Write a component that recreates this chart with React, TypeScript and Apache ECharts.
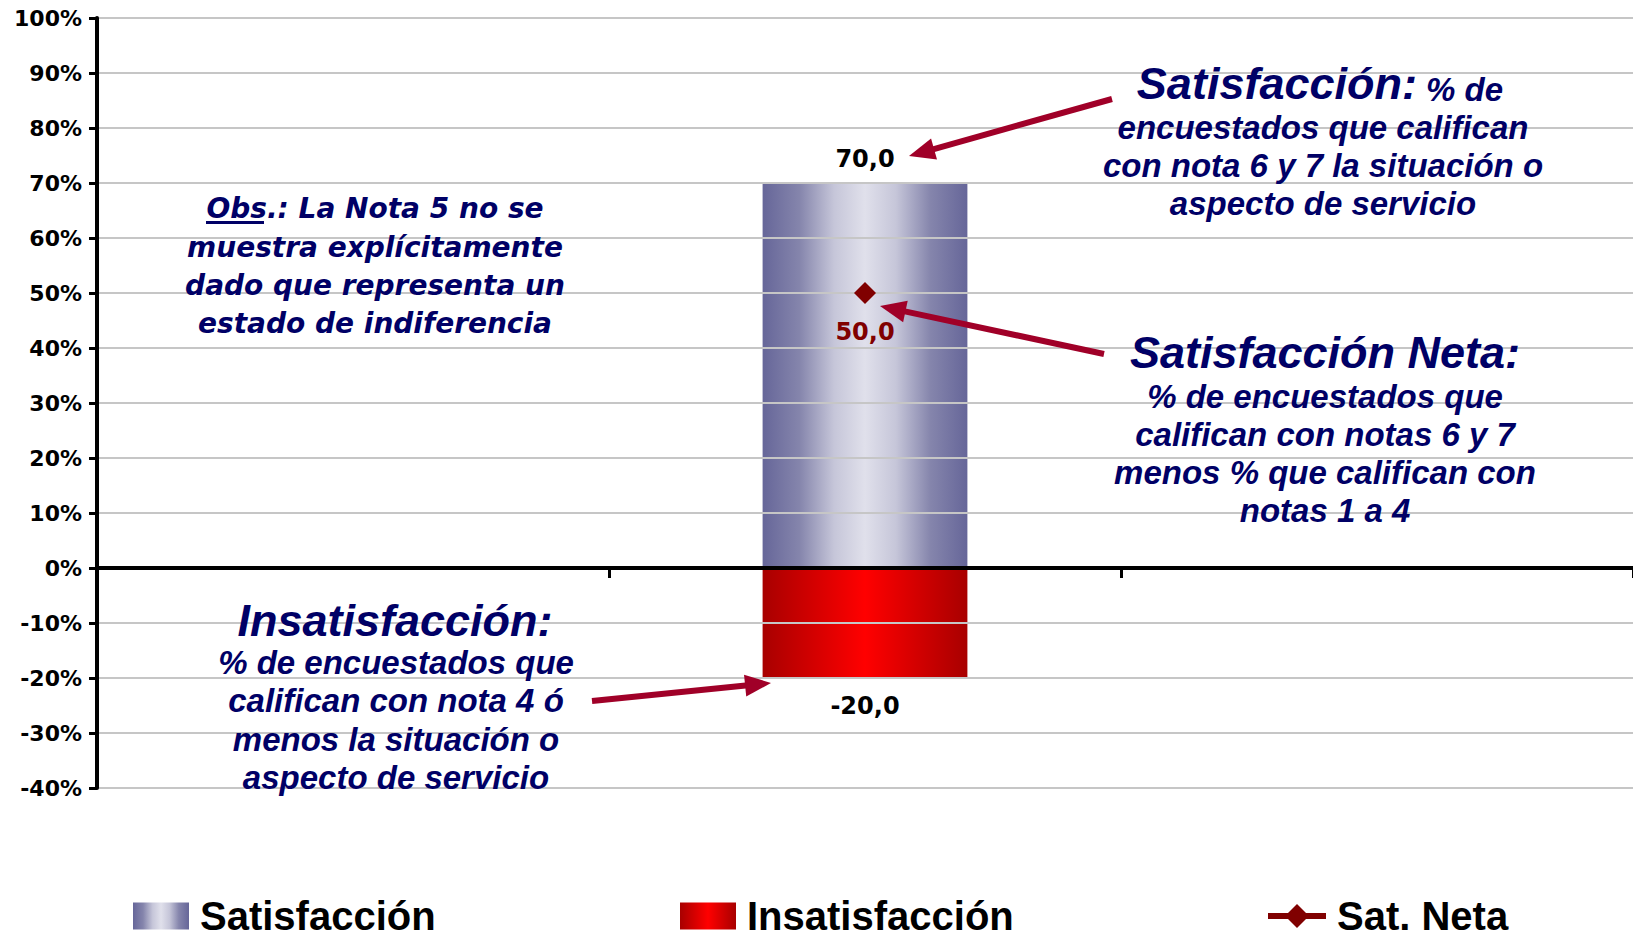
import React, { useEffect, useRef } from "react";
import * as echarts from "echarts";

// ---- data ----
const CATEGORIES = ["Anterior", "Servicio", "Siguiente"];
const SATISFACCION = [null, 70, null];
const INSATISFACCION = [null, -20, null];
const SAT_NETA = [null, 50, null];
const Y_MIN = -40;
const Y_MAX = 100;
const Y_STEP = 10;
const SERIES_NAMES = ["Satisfacción", "Insatisfacción", "Sat. Neta"];

const NOTE_OBS = ["Obs.: La Nota 5 no se", "muestra explícitamente", "dado que representa un", "estado de indiferencia"];
const NOTE_SAT_TITLE = "Satisfacción:";
const NOTE_SAT_LINES = ["encuestados que califican", "con nota 6 y 7 la situación o", "aspecto de servicio"];
const NOTE_NETA_TITLE = "Satisfacción Neta:";
const NOTE_NETA_LINES = ["% de encuestados que", "califican con notas 6 y 7", "menos % que califican con", "notas 1 a 4"];
const NOTE_INS_TITLE = "Insatisfacción:";
const NOTE_INS_LINES = ["% de encuestados que", "califican con nota 4 ó", "menos la situación o", "aspecto de servicio"];

const NAVY = "#000066";
const ARROW = "#A00028";
const TAHOMA = '"Liberation Sans", Arial, sans-serif';
const VERDANA = '"DejaVu Sans", Verdana, sans-serif';

const fmt = (v: any) => Number(v).toFixed(1).replace(".", ",");

function arrow(x1: number, y1: number, x2: number, y2: number) {
  const L = 26, W = 11;
  const dx = x2 - x1, dy = y2 - y1;
  const len = Math.hypot(dx, dy);
  const ux = dx / len, uy = dy / len;
  const px = -uy, py = ux;
  const bx = x2 - ux * L, by = y2 - uy * L;
  return [
    { type: "line", z: 100, shape: { x1, y1, x2: bx + ux * 3, y2: by + uy * 3 }, style: { stroke: ARROW, lineWidth: 6 } },
    {
      type: "polygon",
      z: 100,
      shape: { points: [[x2, y2], [bx + px * W, by + py * W], [bx - px * W, by - py * W]] },
      style: { fill: ARROW },
    },
  ];
}

function textEl(text: string, x: number, y: number, font: string, fill = NAVY) {
  return { type: "text", z: 100, x, y, style: { text, font, fill, align: "center", verticalAlign: "middle" } };
}

export default function App() {
  const ref = useRef<HTMLDivElement>(null);
  useEffect(() => {
    if (!ref.current) return;
    const chart = echarts.init(ref.current, null, { renderer: "svg" });

    const satGrad = new echarts.graphic.LinearGradient(0, 0, 1, 0, [
      { offset: 0, color: "#666699" },
      { offset: 0.18, color: "#8585ac" },
      { offset: 0.35, color: "#c6c6d9" },
      { offset: 0.5, color: "#e0e0eb" },
      { offset: 0.65, color: "#c6c6d9" },
      { offset: 0.82, color: "#8585ac" },
      { offset: 1, color: "#666699" },
    ]);
    const insGrad = new echarts.graphic.LinearGradient(0, 0, 1, 0, [
      { offset: 0, color: "#a80000" },
      { offset: 0.5, color: "#ff0000" },
      { offset: 1, color: "#a80000" },
    ]);

    const titleFont = `italic bold 45px ${TAHOMA}`;
    const subFont = `italic bold 33px ${TAHOMA}`;
    const obsFont = `italic bold 28px ${VERDANA}`;

    const graphics: any[] = [];
    // Obs note
    const obsY = [208, 247, 285, 323];
    NOTE_OBS.forEach((t, i) => graphics.push(textEl(t, 375, obsY[i], obsFont)));
    graphics.push({ type: "rect", z: 100, shape: { x: 206, y: 221, width: 58, height: 3 }, style: { fill: NAVY } });
    // Satisfacción note
    graphics.push({
      type: "text",
      z: 100,
      x: 1320,
      y: 83,
      style: {
        text: `{t|${NOTE_SAT_TITLE}}{s| % de}`,
        align: "center",
        verticalAlign: "middle",
        rich: {
          t: { font: titleFont, fill: NAVY, verticalAlign: "bottom" },
          s: { font: subFont, fill: NAVY, verticalAlign: "bottom" },
        },
      },
    });
    const satY = [127, 165, 203];
    NOTE_SAT_LINES.forEach((t, i) => graphics.push(textEl(t, 1323, satY[i], subFont)));
    // Neta note
    graphics.push(textEl(NOTE_NETA_TITLE, 1325, 352, titleFont));
    const netaY = [396, 434, 472, 510];
    NOTE_NETA_LINES.forEach((t, i) => graphics.push(textEl(t, 1325, netaY[i], subFont)));
    // Insatisfacción note
    graphics.push(textEl(NOTE_INS_TITLE, 395, 620, titleFont));
    const insY = [662, 700, 739, 777];
    NOTE_INS_LINES.forEach((t, i) => graphics.push(textEl(t, 396, insY[i], subFont)));
    // arrows
    graphics.push(...arrow(1112, 99, 909, 156));
    graphics.push(...arrow(1104, 354, 880, 306));
    graphics.push(...arrow(592, 701, 771, 683));

    const legendText = { fontFamily: TAHOMA, fontWeight: "bold", fontSize: 40, color: "#000", lineHeight: 40, padding: [0, 0, 0, 6] };
    const legendBase = { top: 896, padding: 0, itemWidth: 56, itemHeight: 27, textStyle: legendText, selectedMode: false };

    chart.setOption({
      animation: false,
      backgroundColor: "#fff",
      grid: { left: 97, right: -10, top: 18, bottom: 152, containLabel: false },
      legend: [
        { ...legendBase, left: 133, data: [{ name: SERIES_NAMES[0], icon: "rect" }] },
        { ...legendBase, left: 680, data: [{ name: SERIES_NAMES[1], icon: "rect" }] },
        {
          ...legendBase,
          left: 1265,
          itemWidth: 58,
          itemHeight: 30,
          lineStyle: { color: "#800000", width: 6 },
          data: [{ name: SERIES_NAMES[2] }],
        },
      ],
      xAxis: {
        type: "category",
        data: CATEGORIES,
        z: 5,
        axisLine: { show: true, onZero: true, lineStyle: { color: "#000", width: 4 } },
        axisTick: { show: true, length: 10, lineStyle: { color: "#000", width: 3 } },
        axisLabel: { show: false },
        splitLine: { show: false },
      },
      yAxis: {
        type: "value",
        min: Y_MIN,
        max: Y_MAX,
        interval: Y_STEP,
        z: 5,
        axisLine: { show: true, lineStyle: { color: "#000", width: 4 } },
        axisTick: { show: true, length: 8, lineStyle: { color: "#000", width: 3 } },
        axisLabel: {
          formatter: "{value}%",
          fontFamily: VERDANA,
          fontWeight: "bold",
          fontSize: 22,
          color: "#000",
          margin: 15,
        },
        splitLine: { show: true, lineStyle: { color: "#c6c6c6", width: 2 } },
      },
      series: [
        {
          name: SERIES_NAMES[0],
          type: "bar",
          stack: "total",
          barWidth: "40%",
          data: SATISFACCION,
          itemStyle: { color: satGrad },
          label: {
            show: true,
            position: "top",
            distance: 12,
            formatter: (p: any) => fmt(p.value),
            fontFamily: VERDANA,
            fontWeight: "bold",
            fontSize: 24,
            color: "#000",
          },
        },
        {
          name: SERIES_NAMES[1],
          type: "bar",
          stack: "total",
          barWidth: "40%",
          data: INSATISFACCION,
          itemStyle: { color: insGrad },
          label: {
            show: true,
            position: "bottom",
            distance: 16,
            formatter: (p: any) => fmt(p.value),
            fontFamily: VERDANA,
            fontWeight: "bold",
            fontSize: 24,
            color: "#000",
          },
        },
        {
          name: SERIES_NAMES[2],
          type: "line",
          data: SAT_NETA,
          symbol: "diamond",
          symbolSize: 22,
          z: 10,
          itemStyle: { color: "#800000" },
          lineStyle: { color: "#800000", width: 5 },
          label: {
            show: true,
            position: "bottom",
            distance: 16,
            formatter: (p: any) => fmt(p.value),
            fontFamily: VERDANA,
            fontWeight: "bold",
            fontSize: 24,
            color: "#800000",
          },
        },
      ],
      graphic: graphics,
    });

    return () => chart.dispose();
  }, []);

  return <div ref={ref} style={{ position: "absolute", left: 0, top: 0, width: 1633, height: 940 }} />;
}
